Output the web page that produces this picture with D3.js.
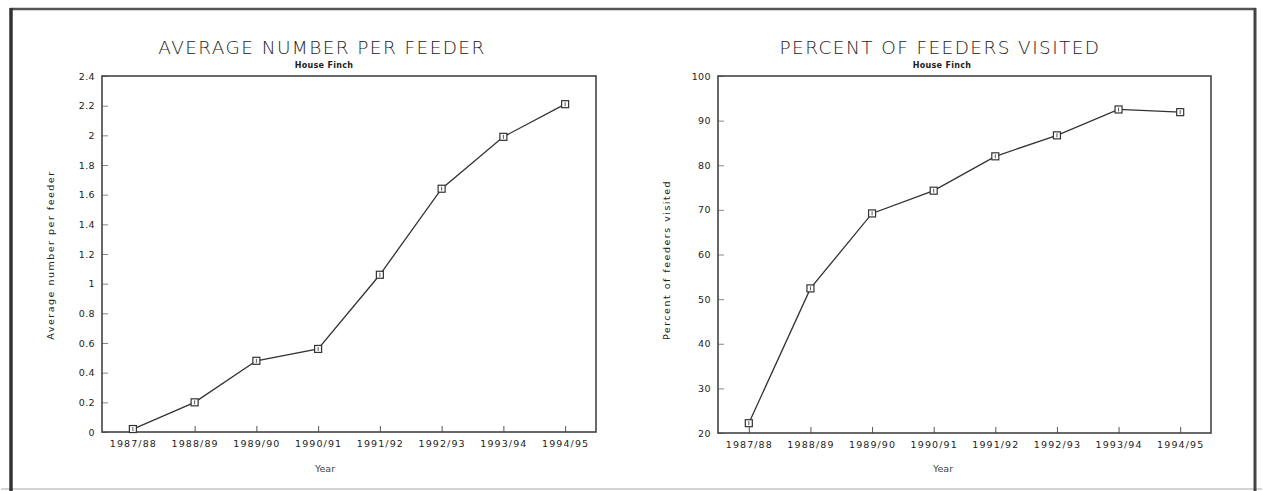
<!DOCTYPE html>
<html lang="en">
<head>
	<meta charset="UTF-8">
	<title>House Finch feeder charts</title>
	<style>
		body { margin: 0; background: #fff; }
		text { font-family: "DejaVu Sans", sans-serif; fill: #222; }
	</style>
</head>
<body>

	<div id="viz-wrapper"></div>

	<script src="https://cdn.jsdelivr.net/npm/d3@7"></script>

	<script type="text/javascript">
    // the data
    var years = ["1987/88", "1988/89", "1989/90", "1990/91", "1991/92", "1992/93", "1993/94", "1994/95"];
    var avgPerFeeder = [0.02, 0.20, 0.48, 0.56, 1.06, 1.64, 1.99, 2.21];
    var pctVisited = [22.2, 52.4, 69.2, 74.3, 82.0, 86.7, 92.5, 91.9];
    var avgTicks = [0, 0.2, 0.4, 0.6, 0.8, 1, 1.2, 1.4, 1.6, 1.8, 2, 2.2, 2.4];
    var pctTicks = [20, 30, 40, 50, 60, 70, 80, 90, 100];

    var width = 1263,
        height = 491;

    var svg = d3.select("#viz-wrapper")
                .append("svg")
                .attr("width", width)
                .attr("height", height);

    // outer frame round both charts
    svg.append("line").attr("x1", 1).attr("y1", 489).attr("x2", 1262).attr("y2", 489)
       .style("stroke", "#d4d4d4").style("stroke-width", 2);
    svg.append("line").attr("x1", 10).attr("y1", 9).attr("x2", 1256).attr("y2", 9)
       .style("stroke", "#555").style("stroke-width", 2.5);
    svg.append("line").attr("x1", 11).attr("y1", 8).attr("x2", 11).attr("y2", 491)
       .style("stroke", "#333").style("stroke-width", 3.5);
    svg.append("line").attr("x1", 1255).attr("y1", 8).attr("x2", 1255).attr("y2", 491)
       .style("stroke", "#444").style("stroke-width", 3);

    // one panel: title, subtitle, framed plot, inward ticks, line with square markers
    function drawPanel(opts) {
        var g = svg.append("g");

        var x = d3.scalePoint()
                  .domain(years)
                  .range([opts.left, opts.right])
                  .padding(0.5);

        var y = d3.scaleLinear()
                  .domain(opts.domain)
                  .range([opts.bottom, opts.top]);

        g.append("text")
         .attr("x", opts.center)
         .attr("y", 54)
         .attr("text-anchor", "middle")
         .style("font-size", "18.5px")
         .style("font-weight", 200)
         .style("letter-spacing", "1.4px")
         .style("fill", "#222")
         .text(opts.title);

        g.append("text")
         .attr("x", opts.center + 2)
         .attr("y", 68)
         .attr("text-anchor", "middle")
         .style("font-size", "8px")
         .style("font-weight", "bold")
         .style("letter-spacing", "0.3px")
         .text("House Finch");

        // y axis, ticks pointing in
        var yAxis = g.append("g")
                     .attr("transform", "translate(" + opts.left + ",0)")
                     .call(d3.axisLeft(y).tickValues(opts.ticks).tickSizeInner(-6).tickSizeOuter(0)
                             .tickPadding(7).tickFormat(d3.format("")));
        yAxis.select(".domain").remove();
        yAxis.selectAll("text").style("font-size", "9.5px").style("font-family", "DejaVu Sans")
             .style("letter-spacing", "0.4px");
        yAxis.selectAll("line").style("stroke", "#888");

        // x axis, ticks pointing in
        var xAxis = g.append("g")
                     .attr("transform", "translate(0," + opts.bottom + ")")
                     .call(d3.axisBottom(x).tickSizeInner(-6).tickSizeOuter(0).tickPadding(8));
        xAxis.select(".domain").remove();
        xAxis.selectAll("text").style("font-size", "9.5px").style("letter-spacing", "1.1px")
             .style("font-family", "DejaVu Sans");
        xAxis.selectAll("line").style("stroke", "#555");

        // plot frame
        g.append("rect")
         .attr("x", opts.left)
         .attr("y", opts.top)
         .attr("width", opts.right - opts.left)
         .attr("height", opts.bottom - opts.top)
         .style("fill", "none")
         .style("stroke", "#444")
         .style("stroke-width", 1.6);

        var line = d3.line()
                     .x(function(d, i) { return x(years[i]); })
                     .y(function(d) { return y(d); });

        g.append("path")
         .datum(opts.values)
         .attr("d", line)
         .style("fill", "none")
         .style("stroke", "#333")
         .style("stroke-width", 1.3);

        var marks = g.selectAll(".mark")
                     .data(opts.values)
                     .enter()
                     .append("g")
                     .attr("class", "mark")
                     .attr("transform", function(d, i) { return "translate(" + x(years[i]) + "," + y(d) + ")"; });
        marks.append("rect")
             .attr("x", -3.5).attr("y", -3.5).attr("width", 7).attr("height", 7)
             .style("fill", "#fff").style("stroke", "#333").style("stroke-width", 1.2);
        marks.append("line")
             .attr("x1", 0).attr("y1", -2).attr("x2", 0).attr("y2", 2)
             .style("stroke", "#555").style("stroke-width", 1);

        g.append("text")
         .attr("x", opts.center + 3)
         .attr("y", 472)
         .attr("text-anchor", "middle")
         .style("font-size", "9.5px")
         .style("fill", "#444")
         .text("Year");

        g.append("text")
         .attr("transform", "translate(" + opts.labelX + "," + opts.labelY + ") rotate(-90)")
         .attr("text-anchor", "middle")
         .style("font-size", "9.5px")
         .style("letter-spacing", "1.5px")
         .text(opts.yLabel);
    }

    drawPanel({
        title: "AVERAGE NUMBER PER FEEDER",
        yLabel: "Average number per feeder",
        values: avgPerFeeder,
        ticks: avgTicks,
        domain: [0, 2.4],
        left: 102, right: 596, top: 76, bottom: 432,
        center: 322, labelX: 54, labelY: 255
    });

    drawPanel({
        title: "PERCENT OF FEEDERS VISITED",
        yLabel: "Percent of feeders visited",
        values: pctVisited,
        ticks: pctTicks,
        domain: [20, 100],
        left: 718, right: 1211, top: 76, bottom: 433,
        center: 940, labelX: 670, labelY: 260
    });
	</script>

</body>
</html>
